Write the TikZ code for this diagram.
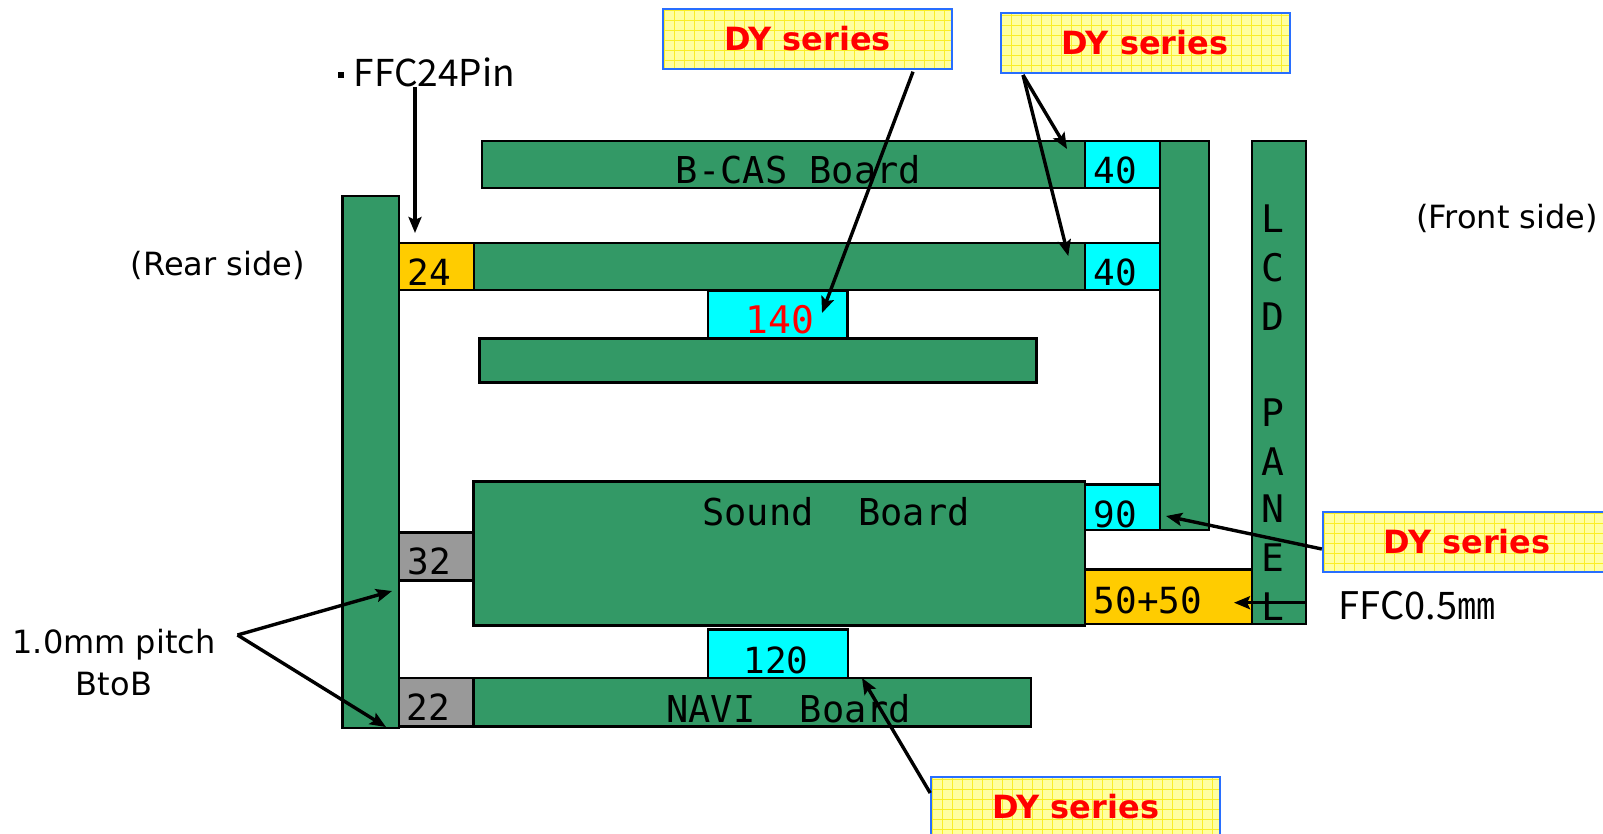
\documentclass[tikz,border=0pt]{standalone}
\usepackage{fontspec}
\usetikzlibrary{arrows.meta}
\newfontfamily\dvs{DejaVu Sans}
\newfontfamily\dvm{DejaVu Sans Mono}
\newfontfamily\jpf{Noto Sans CJK JP}
\definecolor{pcbgreen}{RGB}{51,153,102}
\definecolor{conncyan}{RGB}{0,255,255}
\definecolor{conngold}{RGB}{255,204,0}
\definecolor{conngray}{RGB}{153,153,153}
\definecolor{callfill}{RGB}{255,255,160}
\definecolor{callgrid}{RGB}{250,238,40}
\definecolor{callborder}{RGB}{40,110,255}
\definecolor{dyred}{RGB}{255,0,0}
\begin{document}
\begin{tikzpicture}[x=1pt,y=-1pt,
 board/.style={draw=black, line width=2.5pt, fill=pcbgreen, inner sep=0pt, outer sep=0pt},
 cyanconn/.style={board, fill=conncyan},
 goldconn/.style={board, fill=conngold},
 grayconn/.style={board, fill=conngray},
 lbl/.style={font=\dvm\fontsize{36}{40}\selectfont, anchor=base, inner sep=0pt},
 bigl/.style={font=\dvm\fontsize{37}{40}\selectfont, anchor=base, inner sep=0pt},
 note/.style={font=\dvs\fontsize{32}{38}\selectfont, inner sep=0pt},
 jplbl/.style={font=\jpf\fontsize{37}{40}\selectfont, anchor=base west, inner sep=0pt},
 callout/.style={draw=callborder, line width=2pt, fill=callfill, minimum width=289pt, minimum height=60pt, inner sep=0pt,
   font=\dvs\bfseries\fontsize{32}{36}\selectfont, text=dyred,
   path picture={\draw[callgrid, line width=0.8pt] (path picture bounding box.south west) grid[step=10pt] (path picture bounding box.north east);}},
 arr/.style={line width=3.4pt, -{Stealth[length=16pt,width=13pt,inset=3pt]}},
]
\useasboundingbox[fill=white] (0,0) rectangle (1603,833);

% boards and connectors
\node[board, minimum width=56.7pt, minimum height=532pt] (lbar) at (370.7,462) {};
\node[goldconn, minimum width=75pt, minimum height=47pt] (c24) at (436.5,266.5) {};
\node[board, minimum width=611pt, minimum height=47pt] (b2) at (779.5,266.5) {};
\node[cyanconn, minimum width=75pt, minimum height=47pt] (c40b) at (1122.5,266.5) {};
\node[board, minimum width=603.3pt, minimum height=47.3pt] (bcas) at (783.4,164.4) {};
\node[cyanconn, minimum width=75pt, minimum height=47.3pt] (c40a) at (1122.5,164.4) {};
\node[board, minimum width=49pt, minimum height=389.3pt] (rbar) at (1184.5,335.4) {};
\node[board, minimum width=54pt, minimum height=483.3pt] (lcd) at (1279,382.4) {};
\node[cyanconn, minimum width=139.6pt, minimum height=47.5pt] (c140) at (777.8,314.8) {};
\node[board, minimum width=557pt, minimum height=43.8pt] (b3) at (758,360.4) {};
\node[board, minimum width=611.7pt, minimum height=144.2pt] (sound) at (779.2,553.6) {};
\node[cyanconn, minimum width=75pt, minimum height=45.5pt] (c90) at (1122.5,507.3) {};
\node[goldconn, minimum width=167pt, minimum height=54.5pt] (c5050) at (1168.5,596.8) {};
\node[grayconn, minimum width=74.3pt, minimum height=48pt] (c32) at (436.2,556.7) {};
\node[grayconn, minimum width=74.3pt, minimum height=48.5pt] (c22) at (436.2,702.3) {};
\node[board, minimum width=557.7pt, minimum height=48.5pt] (navi) at (752.2,702.3) {};
\node[cyanconn, minimum width=140pt, minimum height=48.5pt] (c120) at (778,653.8) {};

% labels
\node[lbl] (t24) at (429,285) {24};
\node[lbl] (t40a) at (1115,183.5) {40};
\node[lbl] (t40b) at (1115,285) {40};
\node[lbl, text=dyred, font=\dvm\fontsize{38}{40}\selectfont] (t140) at (780,333) {140};
\node[lbl] (t90) at (1115,527) {90};
\node[lbl] (t5050) at (1148,613) {50+50};
\node[lbl] (t32) at (429,574.5) {32};
\node[lbl] (t22) at (428,720.5) {22};
\node[lbl] (t120) at (776,673) {120};
\node[bigl] (tbcas) at (798.5,183.5) {B-CAS Board};
\node[bigl] (tsound) at (836,525.5) {Sound\ \ Board};
\node[bigl] (tnavi) at (788.7,722) {NAVI\ \ Board};
\foreach \ch/\yy [count=\i] in {L/218.8, C/267.8, D/316.9, P/413, A/462, N/509, E/558, L/607}
  \node[bigl, font=\dvm\fontsize{38}{40}\selectfont] (lcd\i) at (1273,\yy+13.9) {\ch};

% notes
\node[note] (rear) at (217.7,265) {(Rear side)};
\node[note] (front) at (1507,218.8) {(Front side)};
\node[note] (pitch1) at (114,645) {1.0mm pitch};
\node[note] (pitch2) at (114,684) {BtoB};
\node[jplbl] (ffc) at (338,86.7) {\raisebox{9pt}{\rule{5.5pt}{5.5pt}}\hspace{10pt}FFC24Pin};
\node[jplbl, font=\jpf\fontsize{38}{40}\selectfont] (ffc05) at (1338.5,619.3) {FFC0.5㎜};

% callouts
\node[callout] (dyA) at (807.5,38.7) {DY series};
\node[callout] (dyB) at (1145,43) {DY series};
\node[callout] (dyC) at (1467.3,541.5) {DY series};
\node[callout] (dyD) at (1075.7,807) {DY series};

% arrows
\coordinate (ffcE) at (415,233);
\coordinate (aTip) at (822,313);
\coordinate (bTip1) at (1067,149);
\coordinate (bTip2) at (1068.3,256);
\coordinate (cTip) at (1166,516);
\coordinate (p5050) at (1234,602.7);
\coordinate (pitchS) at (237.5,635);
\coordinate (pTip1) at (392,591);
\coordinate (pTip2) at (386,727);
\coordinate (dTip) at (862,678);

\draw[arr] (ffcE |- ffc.south) -- (ffcE);
\draw[arr] ([xshift=105.5pt,yshift=-2pt]dyA.south) -- (aTip);
\draw[arr] ([xshift=-122pt,yshift=-1pt]dyB.south) -- (bTip1);
\draw[arr] ([xshift=-122pt,yshift=-1pt]dyB.south) -- (bTip2);
\draw[arr] ([yshift=-7.5pt]dyC.west) -- (cTip);
\draw[arr] (lcd.east |- p5050) -- (p5050);
\draw[arr] (pitchS) -- (pTip1);
\draw[arr] (pitchS) -- (pTip2);
\draw[arr] ([yshift=-17pt]dyD.north west) -- (dTip);
\end{tikzpicture}
\end{document}
